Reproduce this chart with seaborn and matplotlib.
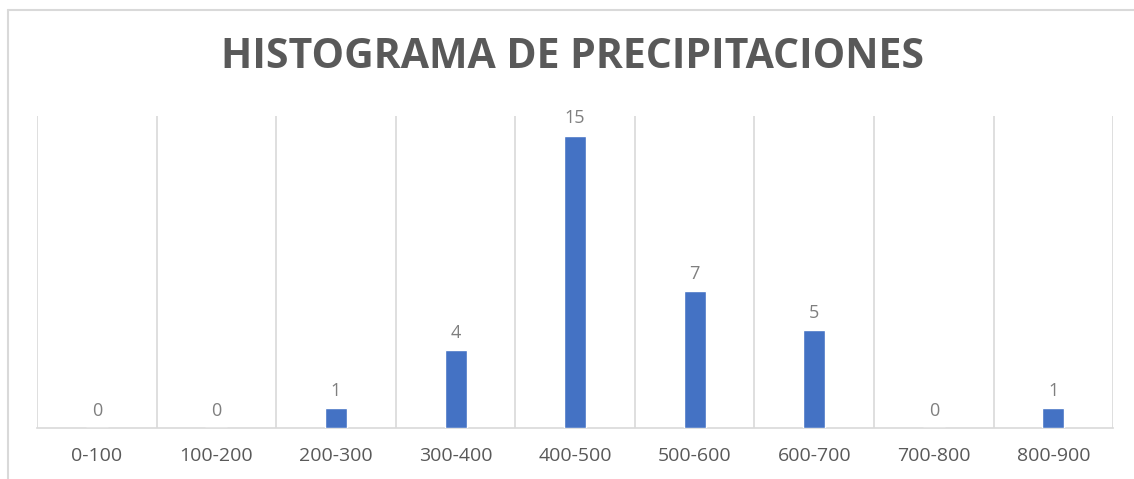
import matplotlib
matplotlib.use("Agg")
import matplotlib.pyplot as plt
from matplotlib.lines import Line2D
import seaborn as sns
import pandas as pd

# Rainfall frequency per 100 mm class
categories = ["0-100", "100-200", "200-300", "300-400", "400-500",
              "500-600", "600-700", "700-800", "800-900"]
counts = [0, 0, 1, 4, 15, 7, 5, 0, 1]
title = "HISTOGRAMA DE PRECIPITACIONES"

df = pd.DataFrame({"rango": categories, "frecuencia": counts})

sns.set_theme(style="white")
plt.rcParams["font.family"] = ["Open Sans", "DejaVu Sans"]

grid_color = "#D9D9D9"
text_color = "#595959"

fig = plt.figure(figsize=(11.34, 4.79), dpi=100)
ax = fig.add_axes([0.0326, 0.1065, 0.9491, 0.6513])

sns.barplot(data=df, x="rango", y="frecuencia", color="#4472C4",
            width=0.184, saturation=1, ax=ax, zorder=3)

ax.set_ylim(0, 16)
ax.set_xlim(-0.5, len(categories) - 0.5)

# vertical separators between classes
for b in [i - 0.5 for i in range(len(categories) + 1)]:
    ax.axvline(b, color=grid_color, lw=1.2, zorder=1)

for side in ["top", "right", "left"]:
    ax.spines[side].set_visible(False)
ax.spines["bottom"].set_color(grid_color)
ax.spines["bottom"].set_linewidth(1.2)

ax.set_yticks([])
ax.set_xlabel("")
ax.set_ylabel("")
ax.tick_params(axis="x", length=0, pad=14, labelsize=14, labelcolor=text_color)

for c in ax.containers:
    ax.bar_label(c, labels=[str(v) for v in counts], padding=6,
                 fontsize=13, color="#7F7F7F")

fig.text(0.505, 0.881, title, ha="center", va="center", fontsize=29.5,
         fontweight="bold", color=text_color)

# chart frame
fig.add_artist(Line2D([0.00705, 1.0], [0.979, 0.979], transform=fig.transFigure,
                      color=grid_color, lw=1.5))
fig.add_artist(Line2D([0.00705, 0.00705], [0.0, 0.979], transform=fig.transFigure,
                      color=grid_color, lw=1.5))

fig.savefig("out.png", dpi=100, facecolor="white")
